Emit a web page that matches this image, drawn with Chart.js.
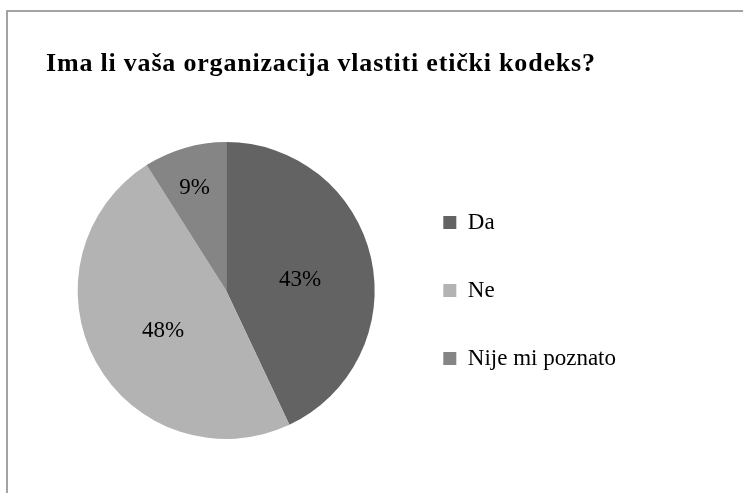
<!DOCTYPE html>
<html>
<head>
<meta charset="utf-8">
<script src="https://cdn.jsdelivr.net/npm/chart.js@4/dist/chart.umd.min.js"></script>
<style>
  html, body { margin: 0; padding: 0; background: #ffffff; }
  #wrap { position: relative; width: 743px; height: 493px; overflow: hidden; background: #ffffff; }
  #frame {
    position: absolute; left: 6px; top: 10px; width: 800px; height: 600px;
    border-top: 2px solid #a3a3a3; border-left: 2px solid #a3a3a3;
    box-sizing: border-box;
  }
  #title {
    position: absolute; left: 46px; top: 48px; margin: 0;
    font-family: "Liberation Serif", "Times New Roman", serif;
    font-weight: bold; font-size: 26px; line-height: 30px;
    letter-spacing: 0.8px; color: #000000; white-space: nowrap;
  }
  #chart { position: absolute; left: 0; top: 0; }
</style>
</head>
<body>
<div id="wrap">
  <div id="frame"></div>
  <canvas id="chart" width="743" height="493"></canvas>
  <h1 id="title">Ima li vaša organizacija vlastiti etički kodeks?</h1>
</div>
<script>
// Survey answers (percent of respondents)
const categories = ['Da', 'Ne', 'Nije mi poznato'];
const shares = [43, 48, 9];
const sliceColors = ['#636363', '#b3b3b3', '#858585'];

// Writes each slice's percentage inside it, at a fraction of the radius
const sliceLabels = {
  id: 'sliceLabels',
  afterDatasetsDraw(chart, args, opts) {
    const ctx = chart.ctx;
    const meta = chart.getDatasetMeta(0);
    const values = chart.data.datasets[0].data;
    const total = values.reduce((a, b) => a + b, 0);
    ctx.save();
    ctx.font = opts.font;
    ctx.fillStyle = opts.color;
    ctx.textAlign = 'center';
    ctx.textBaseline = 'middle';
    meta.data.forEach((arc, i) => {
      const p = arc.getProps(['x', 'y', 'startAngle', 'endAngle', 'outerRadius'], true);
      const mid = (p.startAngle + p.endAngle) / 2;
      const r = p.outerRadius * opts.radial[i];
      const text = Math.round(values[i] / total * 100) + '%';
      ctx.fillText(text, p.x + Math.cos(mid) * r, p.y + Math.sin(mid) * r + opts.nudgeY);
    });
    ctx.restore();
  }
};

new Chart(document.getElementById('chart'), {
  type: 'pie',
  data: {
    labels: categories,
    datasets: [{
      data: shares,
      backgroundColor: sliceColors,
      borderColor: '#ffffff',
      borderWidth: 0
    }]
  },
  plugins: [sliceLabels],
  options: {
    responsive: false,
    animation: false,
    events: [],
    layout: { padding: { left: 54, right: 117, top: 142, bottom: 54 } },
    plugins: {
      title: { display: false },
      tooltip: { enabled: false },
      legend: {
        display: true,
        position: 'right',
        align: 'center',
        labels: {
          boxWidth: 13,
          boxHeight: 13,
          padding: 45,
          color: '#000000',
          font: { family: '"Liberation Serif", "Times New Roman", serif', size: 23 }
        }
      },
      sliceLabels: {
        font: '23px "Liberation Serif", "Times New Roman", serif',
        color: '#000000',
        radial: [0.51, 0.485, 0.76],
        nudgeY: 6
      }
    }
  }
});
</script>
</body>
</html>
